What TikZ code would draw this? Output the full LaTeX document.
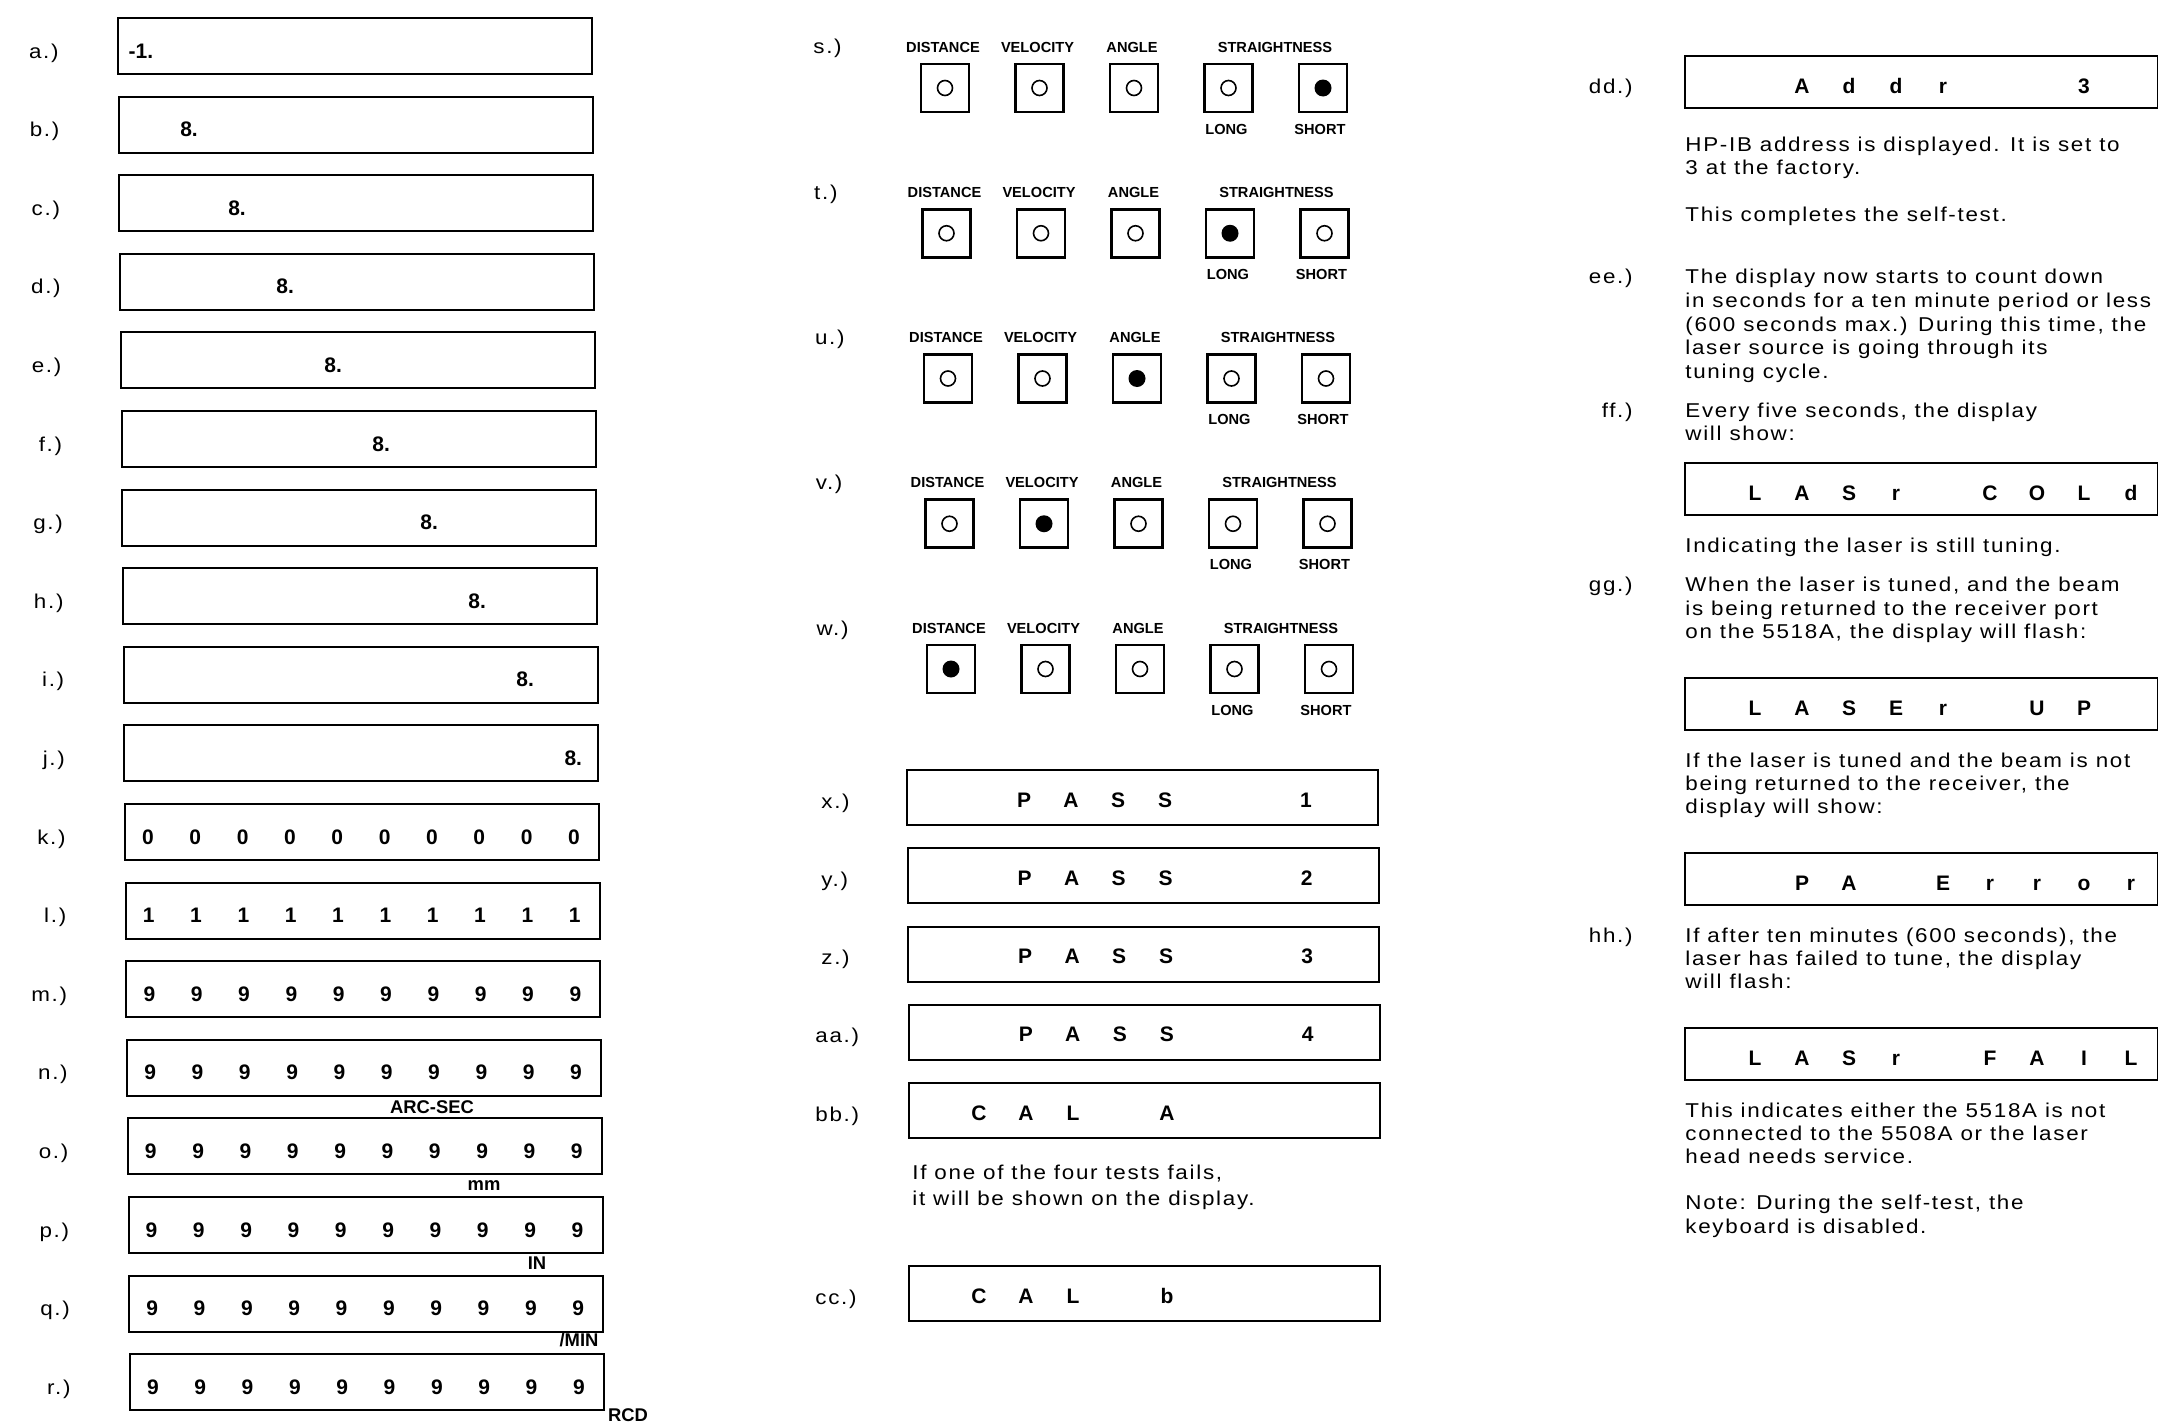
\documentclass[tikz,border=0pt]{standalone}
\usepackage{fontspec}
\setmainfont{Liberation Sans}
\newfontfamily\bodyfont{Liberation Sans}[FakeStretch=1.12,LetterSpace=8.5]
\usetikzlibrary{arrows.meta}

\begin{document}
\begin{tikzpicture}[x=0.5pt,y=-0.5pt,font=\bodyfont\fontsize{10}{12}\selectfont]
\tikzstyle{disp}=[draw,line width=1pt,inner sep=0pt,anchor=north west,minimum width=237pt,minimum height=28pt]
\tikzstyle{seg}=[font=\bfseries\fontsize{10.5}{12}\selectfont,anchor=base,inner sep=0pt]
\tikzstyle{lbl}=[inner sep=0pt]
\tikzstyle{txt}=[anchor=base west,inner sep=0pt]
\tikzstyle{keybox}=[draw,line width=1.4pt,minimum size=24pt,inner sep=0pt]
\tikzstyle{lamp}=[circle,draw,line width=0.8pt,minimum size=7.5pt,inner sep=0pt]
\tikzstyle{lampon}=[circle,fill=black,minimum size=8.5pt,inner sep=0pt]
\tikzstyle{hdr}=[font=\bfseries\fontsize{7.3}{8}\selectfont,anchor=base,inner sep=0pt]
\tikzstyle{unitlbl}=[font=\bfseries\fontsize{9.2}{10}\selectfont,anchor=base,inner sep=0pt]
\path[use as bounding box,fill=white] (0,0) rectangle (2158,1424);

% left column: display test a.) to r.)
\foreach \i/\n in {0/a,1/b,2/c,3/d,4/e,5/f,6/g,7/h,8/i,9/j,10/k,11/l,12/m,13/n,14/o,15/p,16/q,17/r} {
  \pgfmathsetmacro\L{117+0.7*\i}
  \pgfmathsetmacro\T{17+78.6*\i}
  \node[disp] (box\n) at (\L,\T) {};
  \node[lbl,anchor=base east] (lab\n) at ({\L-58},{\T+41}) {\n.)};
}
\node[seg] (va) at (141,58) {-1.};
\foreach \i/\n in {1/b,2/c,3/d,4/e,5/f,6/g,7/h,8/i,9/j} {
  \pgfmathsetmacro\L{117+0.7*\i}
  \pgfmathsetmacro\T{17+78.6*\i}
  \node[seg] (v\n) at ({\L+24+47.33*\i},{\T+41}) {8.};
}
\foreach \i/\n/\d in {10/k/0,11/l/1,12/m/9,13/n/9,14/o/9,15/p/9,16/q/9,17/r/9} {
  \pgfmathsetmacro\L{117+0.7*\i}
  \pgfmathsetmacro\T{17+78.6*\i}
  \foreach \k in {0,...,9} \node[seg] (v\n\k) at ({\L+24+47.33*\k},{\T+41}) {\d};
}
\node[unitlbl] (uarc) at (432,1113) {ARC-SEC};
\node[unitlbl] (umm) at (484,1190) {mm};
\node[unitlbl] (uin) at (537,1269) {IN};
\node[unitlbl] (umin) at (579,1346) {/MIN};
\node[unitlbl] (urcd) at (628,1421) {RCD};

% middle column: annunciator test s.) to w.)
\foreach \i/\n in {0/s,1/t,2/u,3/v,4/w} {
  \pgfmathsetmacro\Y{88+145.25*\i}
  \pgfmathsetmacro\X{945+1.5*\i}
  \pgfmathtruncatemacro\on{4-\i}
  \node[lbl,anchor=base west] (lab\n) at ({813+0.8*\i},{\Y-34}) {\n.)};
  \node[hdr] (hdd\n) at ({\X-2},{\Y-36}) {DISTANCE};
  \node[hdr] (hdv\n) at ({\X+94.5-2},{\Y-36}) {VELOCITY};
  \node[hdr] (hda\n) at ({\X+189-2},{\Y-36}) {ANGLE};
  \node[hdr] (hds\n) at ({\X+330},{\Y-36}) {STRAIGHTNESS};
  \foreach \j in {0,...,4} {
    \node[keybox] (k\n\j) at ({\X+94.5*\j},\Y) {};
    \ifnum\j=\on \node[lampon] (l\n\j) at (k\n\j) {}; \else \node[lamp] (l\n\j) at (k\n\j) {}; \fi
  }
  \node[hdr] (lo\n) at ({\X+283.5-2},{\Y+46}) {LONG};
  \node[hdr] (sh\n) at ({\X+378-3},{\Y+46}) {SHORT};
}

% middle column: pass / cal
\foreach \i/\n/\d/\x in {0/x/1/821,1/y/2/821,2/z/3/821,3/aa/4/815} {
  \pgfmathsetmacro\L{906+0.6*\i}
  \pgfmathsetmacro\T{769+78.25*\i}
  \node[disp,minimum width=235.5pt,minimum height=27.5pt] (box\n) at (\L,\T) {};
  \node[lbl,anchor=base west] (lab\n) at (\x,{\T+39}) {\n.)};
  \foreach \k/\c in {2/P,3/A,4/S,5/S,8/\d} \node[seg] (v\n\k) at ({\L+24+47*\k},{\T+38}) {\c};
}
\node[disp,minimum width=235.5pt,minimum height=27.5pt] (boxbb) at (908,1082) {};
\node[lbl,anchor=base west] (labbb) at (815,1121) {bb.)};
\foreach \k/\c in {1/C,2/A,3/L,5/A} \node[seg] (vbb\k) at ({908+24+47*\k},1120) {\c};
\node[txt] (fail1) at (912,1179) {If one of the four tests fails,};
\node[txt] (fail2) at (912,1205) {it will be shown on the display.};
\node[disp,minimum width=235.5pt,minimum height=27.5pt] (boxcc) at (908,1265) {};
\node[lbl,anchor=base west] (labcc) at (815,1304) {cc.)};
\foreach \k/\c in {1/C,2/A,3/L,5/b} \node[seg] (vcc\k) at ({908+24+47*\k},1303) {\c};

% right column: address and laser messages
\tikzstyle{rdisp}=[disp,minimum width=236.5pt,minimum height=26pt]
\node[rdisp] (boxdd) at (1684,55) {};
\foreach \k/\c in {2/A,3/d,4/d,5/r,8/3} \node[seg] (vdd\k) at ({1684+24+47*\k},93) {\c};
\node[rdisp] (boxcold) at (1684,462) {};
\foreach \k/\c in {1/L,2/A,3/S,4/r,6/C,7/O,8/L,9/d} \node[seg] (vcold\k) at ({1684+24+47*\k},500) {\c};
\node[rdisp] (boxup) at (1684,677) {};
\foreach \k/\c in {1/L,2/A,3/S,4/E,5/r,7/U,8/P} \node[seg] (vup\k) at ({1684+24+47*\k},715) {\c};
\node[rdisp] (boxerr) at (1684,852) {};
\foreach \k/\c in {2/P,3/A,5/E,6/r,7/r,8/o,9/r} \node[seg] (verr\k) at ({1684+24+47*\k},890) {\c};
\node[rdisp] (boxfail) at (1684,1027) {};
\foreach \k/\c in {1/L,2/A,3/S,4/r,6/F,7/A,8/I,9/L} \node[seg] (vfail\k) at ({1684+24+47*\k},1065) {\c};

\foreach \y/\n in {93/dd,283/ee,417/ff,591/gg,942/hh} \node[lbl,anchor=base east] (lab\n) at (1633,\y) {\n.)};
\foreach \y/\t in {151/{HP-IB address is displayed. It is set to},174/{3 at the factory.},
  221/{This completes the self-test.},
  283/{The display now starts to count down},307/{in seconds for a ten minute period or less},
  331/{(600 seconds max.) During this time, the},354/{laser source is going through its},378/{tuning cycle.},
  417/{Every five seconds, the display},440/{will show:},
  552/{Indicating the laser is still tuning.},
  591/{When the laser is tuned, and the beam},615/{is being returned to the receiver port},638/{on the 5518A, the display will flash:},
  767/{If the laser is tuned and the beam is not},790/{being returned to the receiver, the},813/{display will show:},
  942/{If after ten minutes (600 seconds), the},965/{laser has failed to tune, the display},988/{will flash:},
  1117/{This indicates either the 5518A is not},1140/{connected to the 5508A or the laser},1163/{head needs service.},
  1209/{Note: During the self-test, the},1233/{keyboard is disabled.}}
  \node[txt] (t\y) at (1685,\y) {\t};
\end{tikzpicture}
\end{document}
